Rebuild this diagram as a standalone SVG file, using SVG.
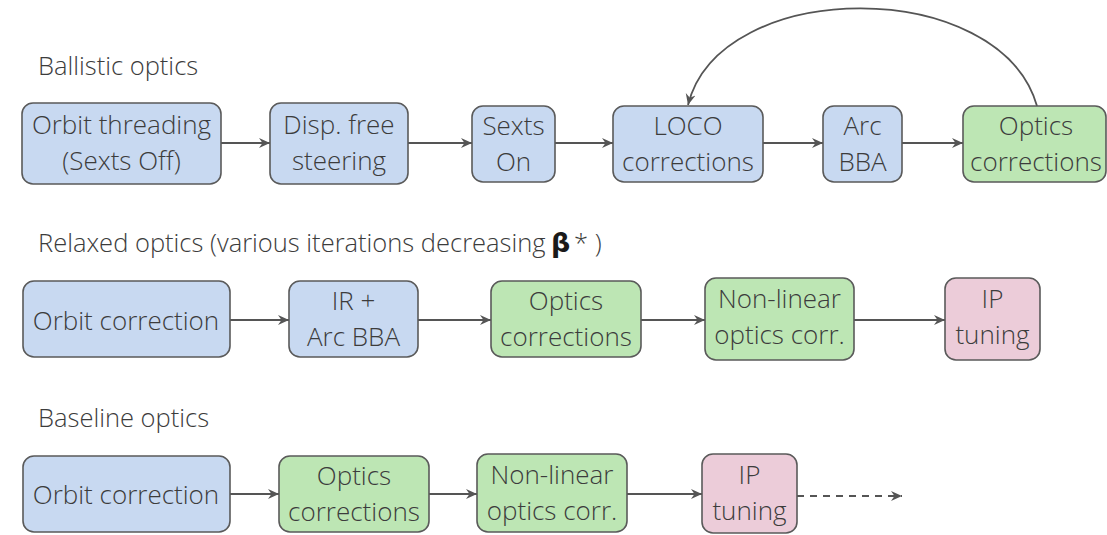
<svg xmlns="http://www.w3.org/2000/svg" width="1107" height="535" viewBox="0 0 1107 535">
<defs>
<style>
text{font-family:"Open Sans","Noto Sans","Liberation Sans",sans-serif;font-weight:300;fill:#3c3c3c;}
.t{font-size:25.5px;}
.n{font-size:26px;text-anchor:middle;}
.box{stroke:#5a5a5a;stroke-width:1.6;}
.blue{fill:#c8d9f1;}
.green{fill:#bde6b4;}
.pink{fill:#ecccd9;}
.c{fill:none;stroke:#555;stroke-width:1.8;}
.d{stroke-dasharray:7 6;}
</style>
<marker id="ah" markerWidth="13" markerHeight="11" refX="11" refY="5.5" orient="auto" markerUnits="userSpaceOnUse">
<path d="M0,0.5 L11,5.5 L0,10.5 L3.5,5.5 Z" fill="#555"/>
</marker>
</defs>
<rect width="1107" height="535" fill="#fff"/>
<text class="t" x="38" y="75">Ballistic optics</text>
<text class="t" x="38" y="252">Relaxed optics (various iterations decreasing <tspan x="551" font-family="DejaVu Sans" font-weight="bold" fill="#1a1a1a" font-size="27">β</tspan><tspan x="574">* )</tspan></text>
<text class="t" x="38" y="427">Baseline optics</text>

<g id="connectors">
<path class="c" marker-end="url(#ah)" d="M221,143 H270"/>
<path class="c" marker-end="url(#ah)" d="M408,143 H472"/>
<path class="c" marker-end="url(#ah)" d="M555,143 H613"/>
<path class="c" marker-end="url(#ah)" d="M763,143 H823"/>
<path class="c" marker-end="url(#ah)" d="M902,143 H963"/>
<path class="c" marker-end="url(#ah)" d="M1037,106 C1000,-24 720,-24 688,105"/>
<path class="c" marker-end="url(#ah)" d="M230,320 H289"/>
<path class="c" marker-end="url(#ah)" d="M418,320 H491"/>
<path class="c" marker-end="url(#ah)" d="M641,320 H705"/>
<path class="c" marker-end="url(#ah)" d="M854,320 H945"/>
<path class="c" marker-end="url(#ah)" d="M230,494 H279"/>
<path class="c" marker-end="url(#ah)" d="M429,494 H477"/>
<path class="c" marker-end="url(#ah)" d="M627,494 H702"/>
<path class="c d" marker-end="url(#ah)" d="M797,496 H902"/>
</g>

<g id="n1"><rect class="box blue" x="22" y="103" width="199" height="81" rx="11"/><text class="n" x="121.5" y="134">Orbit threading</text><text class="n" x="121.5" y="170">(Sexts Off)</text></g>
<g id="n2"><rect class="box blue" x="270" y="103" width="138" height="81" rx="11"/><text class="n" x="339" y="134">Disp. free</text><text class="n" x="339" y="170">steering</text></g>
<g id="n3"><rect class="box blue" x="472" y="106" width="83" height="76" rx="11"/><text class="n" x="513.5" y="135">Sexts</text><text class="n" x="513.5" y="171">On</text></g>
<g id="n4"><rect class="box blue" x="613" y="106" width="150" height="76" rx="11"/><text class="n" x="688" y="135">LOCO</text><text class="n" x="688" y="171">corrections</text></g>
<g id="n5"><rect class="box blue" x="823" y="106" width="79" height="76" rx="11"/><text class="n" x="862.5" y="135">Arc</text><text class="n" x="862.5" y="171">BBA</text></g>
<g id="n6"><rect class="box green" x="963" y="106" width="143" height="76" rx="11"/><text class="n" x="1036" y="135">Optics</text><text class="n" x="1036" y="171">corrections</text></g>

<g id="n7"><rect class="box blue" x="23" y="281" width="207" height="76" rx="11"/><text class="n" x="126" y="330">Orbit correction</text></g>
<g id="n8"><rect class="box blue" x="289" y="281" width="129" height="76" rx="11"/><text class="n" x="353.5" y="310">IR +</text><text class="n" x="353.5" y="346">Arc BBA</text></g>
<g id="n9"><rect class="box green" x="491" y="281" width="150" height="76" rx="11"/><text class="n" x="566" y="310">Optics</text><text class="n" x="566" y="346">corrections</text></g>
<g id="n10"><rect class="box green" x="705" y="278" width="149" height="82" rx="11"/><text class="n" x="779.5" y="308">Non-linear</text><text class="n" x="779.5" y="344">optics corr.</text></g>
<g id="n11"><rect class="box pink" x="945" y="278" width="95" height="82" rx="11"/><text class="n" x="992.5" y="308">IP</text><text class="n" x="992.5" y="344">tuning</text></g>

<g id="n12"><rect class="box blue" x="23" y="456" width="207" height="76" rx="11"/><text class="n" x="126" y="504">Orbit correction</text></g>
<g id="n13"><rect class="box green" x="279" y="456" width="150" height="76" rx="11"/><text class="n" x="354" y="485">Optics</text><text class="n" x="354" y="521">corrections</text></g>
<g id="n14"><rect class="box green" x="477" y="454" width="150" height="78" rx="11"/><text class="n" x="552" y="484">Non-linear</text><text class="n" x="552" y="520">optics corr.</text></g>
<g id="n15"><rect class="box pink" x="702" y="454" width="95" height="79" rx="11"/><text class="n" x="749.5" y="484">IP</text><text class="n" x="749.5" y="520">tuning</text></g>
</svg>
